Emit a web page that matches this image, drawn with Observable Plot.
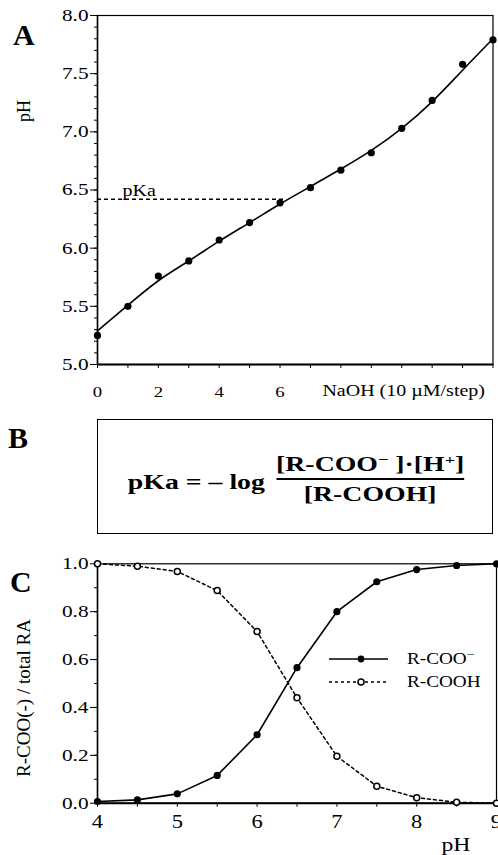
<!DOCTYPE html>
<html><head><meta charset="utf-8">
<script src="https://cdn.jsdelivr.net/npm/d3@7"></script>
<script src="https://cdn.jsdelivr.net/npm/@observablehq/plot@0.6"></script>
<style>
body{margin:0;background:#fff;}
#fig{position:relative;width:498px;height:855px;overflow:hidden;font-family:"Liberation Serif","Times New Roman",serif;color:#000;background:#fff;}
#fig > svg{position:absolute;left:0;}
.letter{position:absolute;font-weight:bold;font-size:30px;line-height:1;}
.ylab{position:absolute;line-height:1;white-space:nowrap;transform:translate(-50%,-50%) rotate(-90deg);}
#boxB{position:absolute;left:97px;top:419px;width:396px;height:115px;box-sizing:border-box;border:1.6px solid #000;display:flex;align-items:center;justify-content:center;}
#formula{display:flex;align-items:center;font-weight:bold;font-size:20px;transform:scaleX(1.39);transform-origin:center;white-space:nowrap;margin-top:6px;margin-left:2px;}
#formula .lhs{margin-right:8px;margin-top:6px;}
.frac{display:flex;flex-direction:column;align-items:center;}
.frac .bar{width:100%;height:1.6px;background:#000;margin:2px 0 3px 0;}
.frac sup{font-size:13px;vertical-align:0.55em;line-height:0;}
#legendC{position:absolute;left:329px;top:647px;font-size:16px;}
#legendC .row{display:flex;align-items:center;height:23px;}
#legendC .lab{transform:scaleX(1.2);transform-origin:left;margin-left:18px;white-space:nowrap;}
#legendC sup{font-size:12px;vertical-align:0.5em;line-height:0;}
</style></head>
<body><div id="fig">
<div class="letter" style="left:13px;top:20px;">A</div>
<div class="letter" style="left:8px;top:423px;">B</div>
<div class="letter" style="left:10px;top:567px;">C</div>
<div id="boxB"><div id="formula"><span class="lhs">pKa = – log</span><div class="frac"><div class="num">[R-COO<sup>−</sup> ]·[H<sup>+</sup>]</div><div class="bar"></div><div class="den">[R-COOH]</div></div></div></div>
</div>
<script>
// ---------- Panel A: titration ----------
const naohSteps   = [0, 1, 2, 3, 4, 5, 6, 7, 8, 9, 10, 11, 12, 13];
const phMeasured  = [5.25, 5.50, 5.76, 5.89, 6.07, 6.22, 6.39, 6.52, 6.67, 6.82, 7.03, 7.27, 7.58, 7.79];
const phFitted    = [5.29, 5.51, 5.72, 5.89, 6.06, 6.22, 6.38, 6.53, 6.68, 6.84, 7.03, 7.26, 7.53, 7.80];
const pKaValue = 6.42;
const pKaStep = 6.2;
const phTicksMajor = [5.0, 5.5, 6.0, 6.5, 7.0, 7.5, 8.0];
const phTicksMinor = [5.0,5.1,5.2,5.3,5.4,5.5,5.6,5.7,5.8,5.9,6.0,6.1,6.2,6.3,6.4,6.5,6.6,6.7,6.8,6.9,7.0,7.1,7.2,7.3,7.4,7.5,7.6,7.7,7.8,7.9,8.0];
const stepTickLabels = [0, 2, 4, 6];
const xLabelA = "NaOH (10 µM/step)";
const yLabelA = "pH";

// ---------- Panel C: species fractions ----------
const phC      = [4, 4.5, 5, 5.5, 6, 6.5, 7, 7.5, 8, 8.5, 9];
const fracCOO  = [0.007, 0.014, 0.039, 0.116, 0.286, 0.566, 0.800, 0.925, 0.976, 0.993, 1.000];
const fracCOOH = [1.000, 0.990, 0.968, 0.888, 0.717, 0.440, 0.196, 0.071, 0.023, 0.004, 0.000];
const fracTicksMajor = [0, 0.2, 0.4, 0.6, 0.8, 1.0];
const fracTicksMinor = [0, 0.1, 0.2, 0.3, 0.4, 0.5, 0.6, 0.7, 0.8, 0.9, 1.0];
const phCTicksMajor = [4, 5, 6, 7, 8, 9];
const phCTicksMinor = [4, 4.5, 5, 5.5, 6, 6.5, 7, 7.5, 8, 8.5, 9];
const xLabelC = "pH";
const yLabelC = "R-COO(-) / total RA";
const seriesNames = ["R-COO", "R-COOH"];

const SX = 1.25;
// widen glyphs horizontally around each text's anchor (the reference is horizontally stretched)
function stretchText(svg, sx) {
  svg.querySelectorAll("text").forEach(t => {
    const tr = t.getAttribute("transform") || "";
    if (/rotate\(/.test(tr) || !t.textContent) return;
    const b = t.getBBox();
    const anchor = getComputedStyle(t).textAnchor;
    const ax = anchor === "end" ? b.x + b.width : anchor === "middle" ? b.x + b.width / 2 : b.x;
    t.setAttribute("transform", `${tr} translate(${ax},0) scale(${sx},1) translate(${-ax},0)`);
  });
}

const style = {fontFamily: "'Liberation Serif','Times New Roman',serif", fontSize: "17px", color: "#000", background: "transparent", overflow: "visible"};
const fig = document.getElementById("fig");
const fmt1 = d3.format(".1f");
const fmt0 = d => String(d);

const rowsA = naohSteps.map((s, i) => ({step: s, ph: phMeasured[i], fit: phFitted[i]}));
const plotA = Plot.plot({
  width: 498, height: 400,
  marginLeft: 97, marginRight: 5.5, marginTop: 15, marginBottom: 36,
  style,
  x: {domain: [0, 13]},
  y: {domain: [5, 8]},
  marks: [
    Plot.frame({stroke: "#000", strokeWidth: 1.2}),
    Plot.axisY({ticks: phTicksMinor, tickSize: 3, tickFormat: () => "", label: null}),
    Plot.axisY({ticks: phTicksMajor, tickSize: 7, tickPadding: 2, tickFormat: fmt1, label: null, fontSize: 17}),
    Plot.axisX({ticks: naohSteps, tickSize: 4, tickFormat: () => "", label: null}),
    Plot.axisX({ticks: stepTickLabels, tickSize: 0, tickPadding: 22, tickFormat: fmt0, label: null, fontSize: 15}),
    Plot.ruleY([5], {strokeWidth: 2}),
    Plot.ruleX([0], {strokeWidth: 1.5}),
    Plot.ruleY([pKaValue], {x1: 0, x2: pKaStep, strokeDasharray: "4,3", strokeWidth: 1.5}),
    Plot.text(["pKa"], {y: [pKaValue], frameAnchor: "left", textAnchor: "start", lineAnchor: "bottom", dx: 25, dy: -3, fontSize: 16}),
    Plot.line(rowsA, {x: "step", y: "fit", curve: "natural", strokeWidth: 1.6}),
    Plot.dot(rowsA, {x: "step", y: "ph", r: 3.6, fill: "#000", stroke: "none"}),
    Plot.text([xLabelA], {frameAnchor: "bottom-right", textAnchor: "end", lineAnchor: "bottom", dx: -8, dy: 31, fontSize: 16})
  ]
});
plotA.style.top = "0px";
fig.appendChild(plotA);
stretchText(plotA, SX);

const rowsC = phC.map((p, i) => ({ph: p, coo: fracCOO[i], cooh: fracCOOH[i]}));
const plotC = Plot.plot({
  width: 498, height: 315,
  marginLeft: 97, marginRight: 2, marginTop: 23.3, marginBottom: 52.3,
  style,
  x: {domain: [4, 9]},
  y: {domain: [0, 1]},
  marks: [
    Plot.frame({stroke: "#000", strokeWidth: 1.2}),
    Plot.axisY({ticks: fracTicksMinor, tickSize: 3, tickFormat: () => "", label: null}),
    Plot.axisY({ticks: fracTicksMajor, tickSize: 7, tickPadding: 2, tickFormat: fmt1, label: null, fontSize: 17}),
    Plot.axisX({ticks: phCTicksMinor, tickSize: 4, tickFormat: () => "", label: null}),
    Plot.axisX({ticks: phCTicksMajor, tickSize: 0, tickPadding: 12, tickFormat: fmt0, label: null, fontSize: 18}),
    Plot.ruleY([0], {strokeWidth: 2}),
    Plot.ruleX([4], {strokeWidth: 1.5}),
    Plot.line(rowsC, {x: "ph", y: "cooh", strokeDasharray: "3,3", strokeWidth: 1.5}),
    Plot.line(rowsC, {x: "ph", y: "coo", strokeWidth: 1.6}),
    Plot.dot(rowsC, {x: "ph", y: "cooh", r: 3, fill: "#fff", stroke: "#000", strokeWidth: 1.5}),
    Plot.dot(rowsC, {x: "ph", y: "coo", r: 3.6, fill: "#000", stroke: "none"}),
    Plot.text([xLabelC], {frameAnchor: "bottom-right", textAnchor: "end", lineAnchor: "bottom", dx: -26, dy: 48, fontSize: 19})
  ]
});
plotC.style.top = "540px";
fig.appendChild(plotC);
stretchText(plotC, SX);

// rotated y-axis titles
function addYLabel(text, cx, cy, size) {
  const d = document.createElement("div");
  d.className = "ylab";
  d.style.left = cx + "px"; d.style.top = cy + "px"; d.style.fontSize = size + "px";
  d.textContent = text;
  fig.appendChild(d);
}
addYLabel(yLabelA, 24, 111, 18);
addYLabel(yLabelC, 23, 698, 19);

// legend for panel C
const leg = document.createElement("div");
leg.id = "legendC";
leg.innerHTML = `
<div class="row"><svg width="60" height="14"><line x1="0" y1="7" x2="59" y2="7" stroke="#000" stroke-width="1.6"/><circle cx="32" cy="7" r="3.4" fill="#000"/></svg><span class="lab">${seriesNames[0]}<sup>−</sup></span></div>
<div class="row"><svg width="60" height="14"><line x1="0" y1="7" x2="59" y2="7" stroke="#000" stroke-width="1.5" stroke-dasharray="3,3"/><circle cx="32" cy="7" r="3" fill="#fff" stroke="#000" stroke-width="1.5"/></svg><span class="lab">${seriesNames[1]}</span></div>`;
fig.appendChild(leg);
</script>
</body></html>
